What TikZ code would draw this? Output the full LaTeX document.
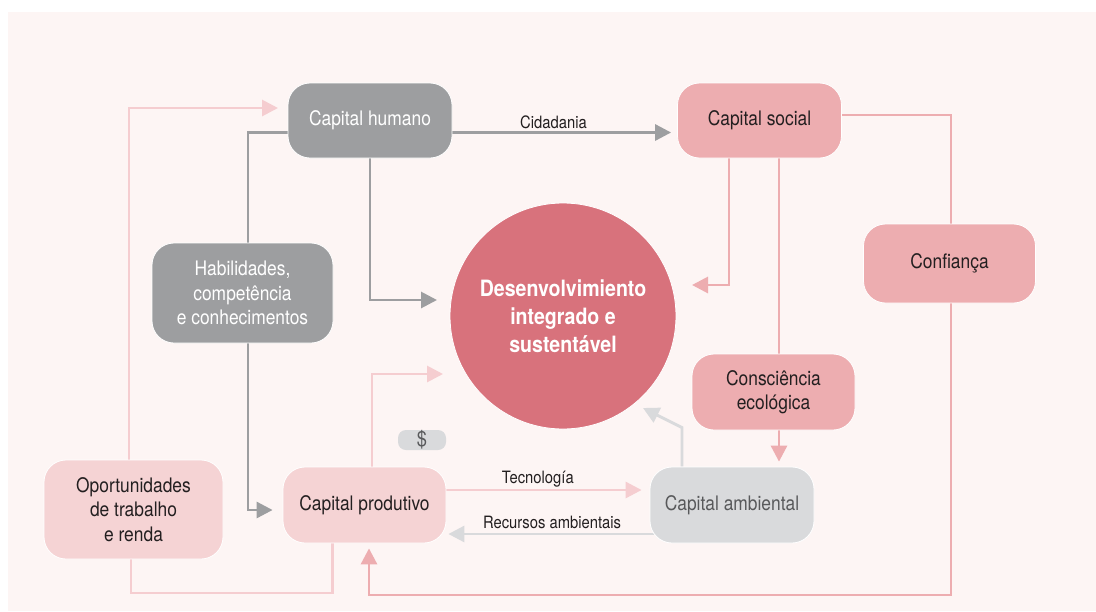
\documentclass[tikz,border=0pt]{standalone}
\usepackage{fontspec}
\setmainfont{TeX Gyre Heros}[FakeStretch=0.87]
\usetikzlibrary{arrows.meta}
\definecolor{pagebg}{HTML}{FDF5F4}
\definecolor{humangray}{HTML}{9D9EA0}
\definecolor{socialpink}{HTML}{EDADB0}
\definecolor{lightpink}{HTML}{F5D3D4}
\definecolor{linepink}{HTML}{F5CDD0}
\definecolor{envgray}{HTML}{D9DADC}
\definecolor{corered}{HTML}{D8727C}
\definecolor{inkdark}{HTML}{231F20}
\definecolor{inkgray}{HTML}{58595B}

\pgfdeclarelayer{paper}
\pgfdeclarelayer{background}
\pgfsetlayers{paper,background,main}

\tikzset{
  capbox/.style={rounded corners=22pt, align=center, inner sep=0pt,
    font=\fontsize{20}{24.5}\selectfont, draw=white, line width=0.8pt},
  graybox/.style={capbox, fill=humangray, text=white},
  socbox/.style={capbox, fill=socialpink, text=inkdark},
  prodbox/.style={capbox, fill=lightpink, text=inkdark},
  envbox/.style={capbox, fill=envgray, text=inkgray},
  link/.style={line width=2.9pt},
  tip/.style={-{Triangle[length=16pt,width=16pt]}},
  flowlabel/.style={font=\fontsize{17}{20}\selectfont, text=inkdark,
    anchor=base, inner sep=0pt},
}

\begin{document}
\begin{tikzpicture}[x=1pt,y=-1pt]
  \useasboundingbox (0,0) rectangle (1096,611);
  \begin{pgfonlayer}{paper}
    \fill[pagebg] (8,12) rectangle (1096,611);
  \end{pgfonlayer}

  % === CAPITALS ===
  \node[graybox, minimum width=164pt, minimum height=75pt] (hum) at (370,120.5) {Capital humano};
  \node[socbox, minimum width=164pt, minimum height=75pt] (soc) at (759.5,120.5) {Capital social};
  \node[graybox, minimum width=181pt, minimum height=100pt] (hab) at (242.5,293) {Habilidades,\\competência\\e conhecimentos};
  \node[socbox, minimum width=172pt, minimum height=79pt] (conf) at (949.5,263.5) {Confiança};
  \node[socbox, minimum width=163pt, minimum height=76pt] (cons) at (773.5,392) {Consciência\\ecológica};
  \node[prodbox, minimum width=179pt, minimum height=99pt] (opo) at (133.5,509.5) {Oportunidades\\de trabalho\\e renda};
  \node[prodbox, minimum width=163pt, minimum height=76pt] (prod) at (364.5,505) {Capital produtivo};
  \node[envbox, minimum width=164pt, minimum height=76pt] (amb) at (732,505) {Capital ambiental};
  \node[rounded corners=8pt, fill=envgray, text=inkgray, minimum width=48pt, minimum height=20pt,
    inner sep=0pt, font=\fontsize{21}{22}\selectfont] (cash) at (422,440) {\$};

  % === CENTRE ===
  \node[circle, fill=corered, draw=white, line width=0.8pt, minimum size=226pt, align=center, text=white,
    font=\bfseries\fontsize{22.5}{28}\selectfont] (des) at (563,316)
    {Desenvolvimiento\\integrado e\\sustentável};

  % points near the centre where arrows stop
  \coordinate (inhum) at (437,300);
  \coordinate (inprod) at (443,374);
  \coordinate (inamb) at (643,408);
  \coordinate (insoc) at (692,285);
  \coordinate (opotop) at (278,108);
  \coordinate (opobot) at (131,593);
  \coordinate (confbot) at (951,595);

  % === CONNECTORS ===
  \begin{pgfonlayer}{background}
    % grey: human capital
    \draw[link, humangray, tip, shorten >=6pt] ([yshift=-12pt]hum.east) -- ([yshift=-12pt]hum.east -| soc.west)
      node[flowlabel, pos=0.45, yshift=4pt] {Cidadania};
    \draw[link, humangray, tip] (hum.south) |- (inhum);
    \draw[link, humangray] ([yshift=-12pt]hum.west) -| ([xshift=5.5pt]hab.north);
    \draw[link, humangray, tip, shorten >=10pt] ([xshift=5.5pt]hab.south) |- ([yshift=-5pt]prod.west);

    % light pink: opportunities and production
    \draw[link, linepink, tip] ([xshift=-4.5pt]opo.north) |- (opotop);
    \draw[link, linepink] (opo.south -| opobot) -- (opobot) -| ([xshift=-32pt]prod.south);
    \draw[link, linepink, tip] ([xshift=7.5pt]prod.north) |- (inprod);
    \draw[link, linepink, tip, shorten >=8pt] ([yshift=15pt]prod.east) -- ([yshift=15pt]prod.east -| amb.west)
      node[flowlabel, pos=0.45, yshift=7pt] {Tecnología};

    % light grey: environment
    \draw[link, envgray, tip, shorten >=2pt] ([yshift=-29pt]amb.center) -- ([yshift=-29pt]amb.center -| prod.east)
      node[flowlabel, pos=0.63, yshift=6pt] {Recursos ambientais};
    \draw[link, envgray, tip] ([xshift=-50pt]amb.north) -- ++(0,-39) -- (inamb);

    % pink: social capital
    \draw[link, socialpink, tip] ([xshift=-30.5pt]soc.south) |- (insoc);
    \draw[link, socialpink] ([xshift=19.5pt]soc.south) -- ([xshift=19.5pt]soc.south |- cons.north);
    \draw[link, socialpink, tip, shorten >=5pt] ([xshift=5.5pt]cons.south) -- ([xshift=5.5pt]cons.south |- amb.north);
    \draw[link, socialpink] ([yshift=5.5pt]soc.east) -| ([xshift=1.5pt]conf.north);
    \draw[link, socialpink, tip, shorten >=5pt] ([xshift=1.5pt]conf.south) |- ([xshift=4.5pt]prod.south |- confbot)
      -- ([xshift=4.5pt]prod.south);
  \end{pgfonlayer}
\end{tikzpicture}
\end{document}
